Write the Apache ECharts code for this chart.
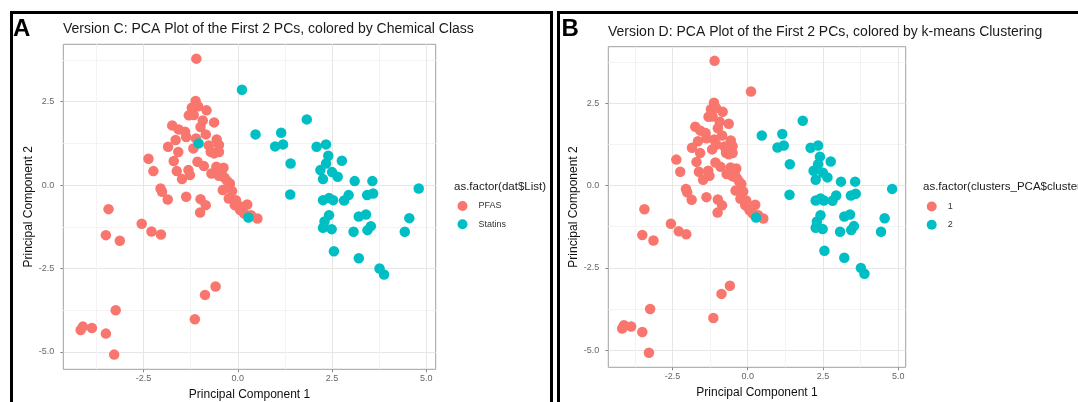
<!DOCTYPE html>
<html>
<head>
<meta charset="utf-8">
<script src="https://cdn.jsdelivr.net/npm/echarts@6/dist/echarts.min.js"></script>
<style>
html,body{margin:0;padding:0;background:#fff;}
#chart{width:1078px;height:402px;}
</style>
</head>
<body>
<div id="chart"></div>
<script>
// ---- Data ----
const pc1 = [
  -1.10,-3.43,-3.50,-3.13,-2.55,-2.29,-2.04,-0.59,-0.87,-1.14,-3.24,-3.50,-3.28,-4.17,-4.11,-3.87,
  -2.37,-2.24,-2.05,-2.01,-1.86,-1.37,-0.99,-0.85,-1.00,
  -1.12,-1.22,-1.05,-0.83,-1.30,-1.17,-0.93,-0.63,-1.74,-1.57,-1.40,-0.99,-0.85,-1.65,-1.37,-1.11,
  -0.56,-0.50,-1.85,-1.58,-1.18,-0.77,-0.72,-0.50,-0.63,-1.70,-1.07,-0.90,-1.31,-1.62,-1.27,-1.48,
  -0.57,-0.38,-0.70,-0.50,-0.35,-0.21,-0.40,-0.15,-0.24,-0.08,0.25,0.06,0.17,0.35,0.52,
  -0.43,-0.28,-0.05,0.10,
  0.11,-1.04,0.28,0.47,1.15,0.99,1.20,1.40,1.39,1.83,2.09,2.34,2.40,2.34,2.19,2.26,2.50,2.65,2.76,
  3.10,3.57,3.43,3.59,2.94,2.82,2.26,2.42,2.53,2.42,2.30,2.26,2.49,3.07,3.21,3.40,3.44,3.53,
  2.55,3.21,3.76,3.88,4.43,4.55,4.80
];
const pc2 = [
  3.79,-0.72,-1.50,-1.67,-1.16,-1.39,-1.48,-3.04,-3.29,-4.02,-3.75,-4.45,-5.08,-4.34,-4.24,-4.28,
  0.79,0.42,-0.10,-0.20,-0.43,-0.35,-0.42,-0.60,-0.82,
  2.52,2.32,2.36,2.24,2.09,2.10,1.94,1.88,1.79,1.67,1.60,1.74,1.52,1.35,1.44,1.40,
  1.37,1.20,1.15,0.99,1.10,1.19,1.00,0.99,0.95,0.72,0.70,0.57,0.45,0.42,0.30,0.18,
  0.55,0.52,0.35,0.28,0.22,0.05,-0.15,-0.18,-0.40,-0.60,-0.58,-0.75,-0.85,-0.90,-1.00,
  0.42,0.12,-0.45,-0.65,
  2.86,1.25,-0.97,1.52,1.57,1.16,1.22,0.65,-0.28,1.97,1.15,1.22,0.88,0.65,0.45,0.18,0.39,0.25,0.73,
  0.12,0.12,-0.30,-0.25,-0.30,-0.46,-0.45,-0.39,-0.45,-0.90,-1.09,-1.28,-1.32,-1.40,-0.94,-0.88,-1.35,-1.23,
  -1.98,-2.19,-2.50,-2.68,-1.40,-0.99,-0.10
];
const nPFAS = 76;       // first 76 compounds are PFAS, the rest are statins
const chemClass = pc1.map((_, i) => i < nPFAS ? 'PFAS' : 'Statins');
const kmCluster = pc1.map((_, i) => (i < nPFAS || i === nPFAS || i === nPFAS + 1) ? '1' : '2');

const xLimits = [-4.63, 5.25];
const yLimits = [-5.52, 4.22];
const xMajor = [-2.5, 0, 2.5, 5];
const yMajor = [-5, -2.5, 0, 2.5];
const xMinor = [-3.75, -1.25, 1.25, 3.75];
const yMinor = [-3.75, -1.25, 1.25, 3.75];

const classLevels = ['PFAS', 'Statins'];
const clusterLevels = ['1', '2'];
const colors = ['#F8766D', '#00BFC4'];

// ---- Build chart ----
const FONT = "'Liberation Sans', Arial, sans-serif";
function pts(labels, level) {
  const out = [];
  for (let i = 0; i < pc1.length; i++) if (labels[i] === level) out.push([pc1[i], pc2[i]]);
  return out;
}
function mainX(g) {
  return {
    type: 'value', gridIndex: g, min: xLimits[0], max: xLimits[1],
    name: 'Principal Component 1', nameLocation: 'middle', nameGap: 16,
    nameTextStyle: { fontSize: 12, color: '#111', fontFamily: FONT },
    axisLine: { show: false, onZero: false },
    axisTick: { show: true, length: 3, customValues: xMajor, lineStyle: { color: '#888' } },
    axisLabel: { customValues: xMajor, margin: 5, fontSize: 9, color: '#666', fontFamily: FONT,
      formatter: v => v.toFixed(1) },
    splitLine: { show: true, lineStyle: { color: '#e6e6e6', width: 1 } }
  };
}
function minorX(g) {
  return {
    type: 'value', gridIndex: g, min: xLimits[0], max: xLimits[1],
    axisLine: { show: false, onZero: false }, axisLabel: { show: false },
    axisTick: { show: false, customValues: xMinor },
    splitLine: { show: true, lineStyle: { color: '#f3f3f3', width: 1 } }
  };
}
function mainY(g) {
  return {
    type: 'value', gridIndex: g, min: yLimits[0], max: yLimits[1],
    name: 'Principal Component 2', nameLocation: 'middle', nameGap: 23,
    nameTextStyle: { fontSize: 12, color: '#111', fontFamily: FONT },
    axisLine: { show: false, onZero: false },
    axisTick: { show: true, length: 3, customValues: yMajor, lineStyle: { color: '#888' } },
    axisLabel: { customValues: yMajor, margin: 9, fontSize: 9, color: '#666', fontFamily: FONT,
      formatter: v => v.toFixed(1) },
    splitLine: { show: true, lineStyle: { color: '#e6e6e6', width: 1 } }
  };
}
function minorY(g) {
  return {
    type: 'value', gridIndex: g, min: yLimits[0], max: yLimits[1], position: 'left',
    axisLine: { show: false, onZero: false }, axisLabel: { show: false },
    axisTick: { show: false, customValues: yMinor },
    splitLine: { show: true, lineStyle: { color: '#f3f3f3', width: 1 } }
  };
}
function scatter(name, xi, data, color) {
  return {
    name: name, type: 'scatter', xAxisIndex: xi, yAxisIndex: xi, data: data,
    symbol: 'circle', symbolSize: 10.5, itemStyle: { color: color, opacity: 1 },
    emphasis: { disabled: true }, silent: true
  };
}

const chart = echarts.init(document.getElementById('chart'), null, { renderer: 'canvas' });
const option = {
  animation: false,
  backgroundColor: '#ffffff',
  textStyle: { fontFamily: FONT },
  title: [
    { text: 'A', left: 8, top: 12, textStyle: { fontSize: 24, fontWeight: 'bold', color: '#000', fontFamily: FONT } },
    { text: 'Version C: PCA Plot of the First 2 PCs, colored by Chemical Class', left: 58, top: 17,
      textStyle: { fontSize: 14, fontWeight: 'normal', color: '#1a1a1a', fontFamily: FONT } },
    { text: 'as.factor(dat$List)', left: 449, top: 175.5,
      textStyle: { fontSize: 11.5, fontWeight: 'normal', color: '#1a1a1a', fontFamily: FONT } },
    { text: 'B', left: 556.5, top: 12, textStyle: { fontSize: 24, fontWeight: 'bold', color: '#000', fontFamily: FONT } },
    { text: 'Version D: PCA Plot of the First 2 PCs, colored by k-means Clustering', left: 603, top: 20,
      textStyle: { fontSize: 14, fontWeight: 'normal', color: '#1a1a1a', fontFamily: FONT } },
    { text: 'as.factor(clusters_PCA$cluster)', left: 918, top: 175.5,
      textStyle: { fontSize: 11.5, fontWeight: 'normal', color: '#1a1a1a', fontFamily: FONT } }
  ],
  legend: [
    { data: classLevels, orient: 'vertical', left: 452.5, top: 196, itemWidth: 10, itemHeight: 10,
      itemGap: 8.3, icon: 'circle', selectedMode: false,
      textStyle: { fontSize: 9, color: '#333', fontFamily: FONT, padding: [0, 0, 0, 6] } },
    { data: clusterLevels, orient: 'vertical', left: 921.7, top: 196.5, itemWidth: 10, itemHeight: 10,
      itemGap: 8.3, icon: 'circle', selectedMode: false,
      textStyle: { fontSize: 9, color: '#333', fontFamily: FONT, padding: [0, 0, 0, 6] } }
  ],
  grid: [
    { left: 63.3, top: 44.3, width: 372.4, height: 325, show: true, borderColor: '#a0a0a0', borderWidth: 1,
      backgroundColor: 'transparent', containLabel: false, outerBoundsMode: 'none' },
    { left: 608.3, top: 46.7, width: 297.4, height: 320.6, show: true, borderColor: '#a0a0a0', borderWidth: 1,
      backgroundColor: 'transparent', containLabel: false, outerBoundsMode: 'none' }
  ],
  xAxis: [mainX(0), minorX(0), mainX(1), minorX(1)],
  yAxis: [mainY(0), minorY(0), mainY(1), minorY(1)],
  series: [
    scatter(classLevels[0], 0, pts(chemClass, classLevels[0]), colors[0]),
    scatter(classLevels[1], 0, pts(chemClass, classLevels[1]), colors[1]),
    scatter(clusterLevels[0], 2, pts(kmCluster, clusterLevels[0]), colors[0]),
    scatter(clusterLevels[1], 2, pts(kmCluster, clusterLevels[1]), colors[1])
  ],
  graphic: [
    { type: 'rect', shape: { x: 11.5, y: 12.5, width: 540, height: 420 },
      style: { fill: 'none', stroke: '#000', lineWidth: 3 }, silent: true },
    { type: 'rect', shape: { x: 558.5, y: 12.5, width: 540, height: 420 },
      style: { fill: 'none', stroke: '#000', lineWidth: 3 }, silent: true }
  ]
};
chart.setOption(option);
</script>
</body>
</html>
